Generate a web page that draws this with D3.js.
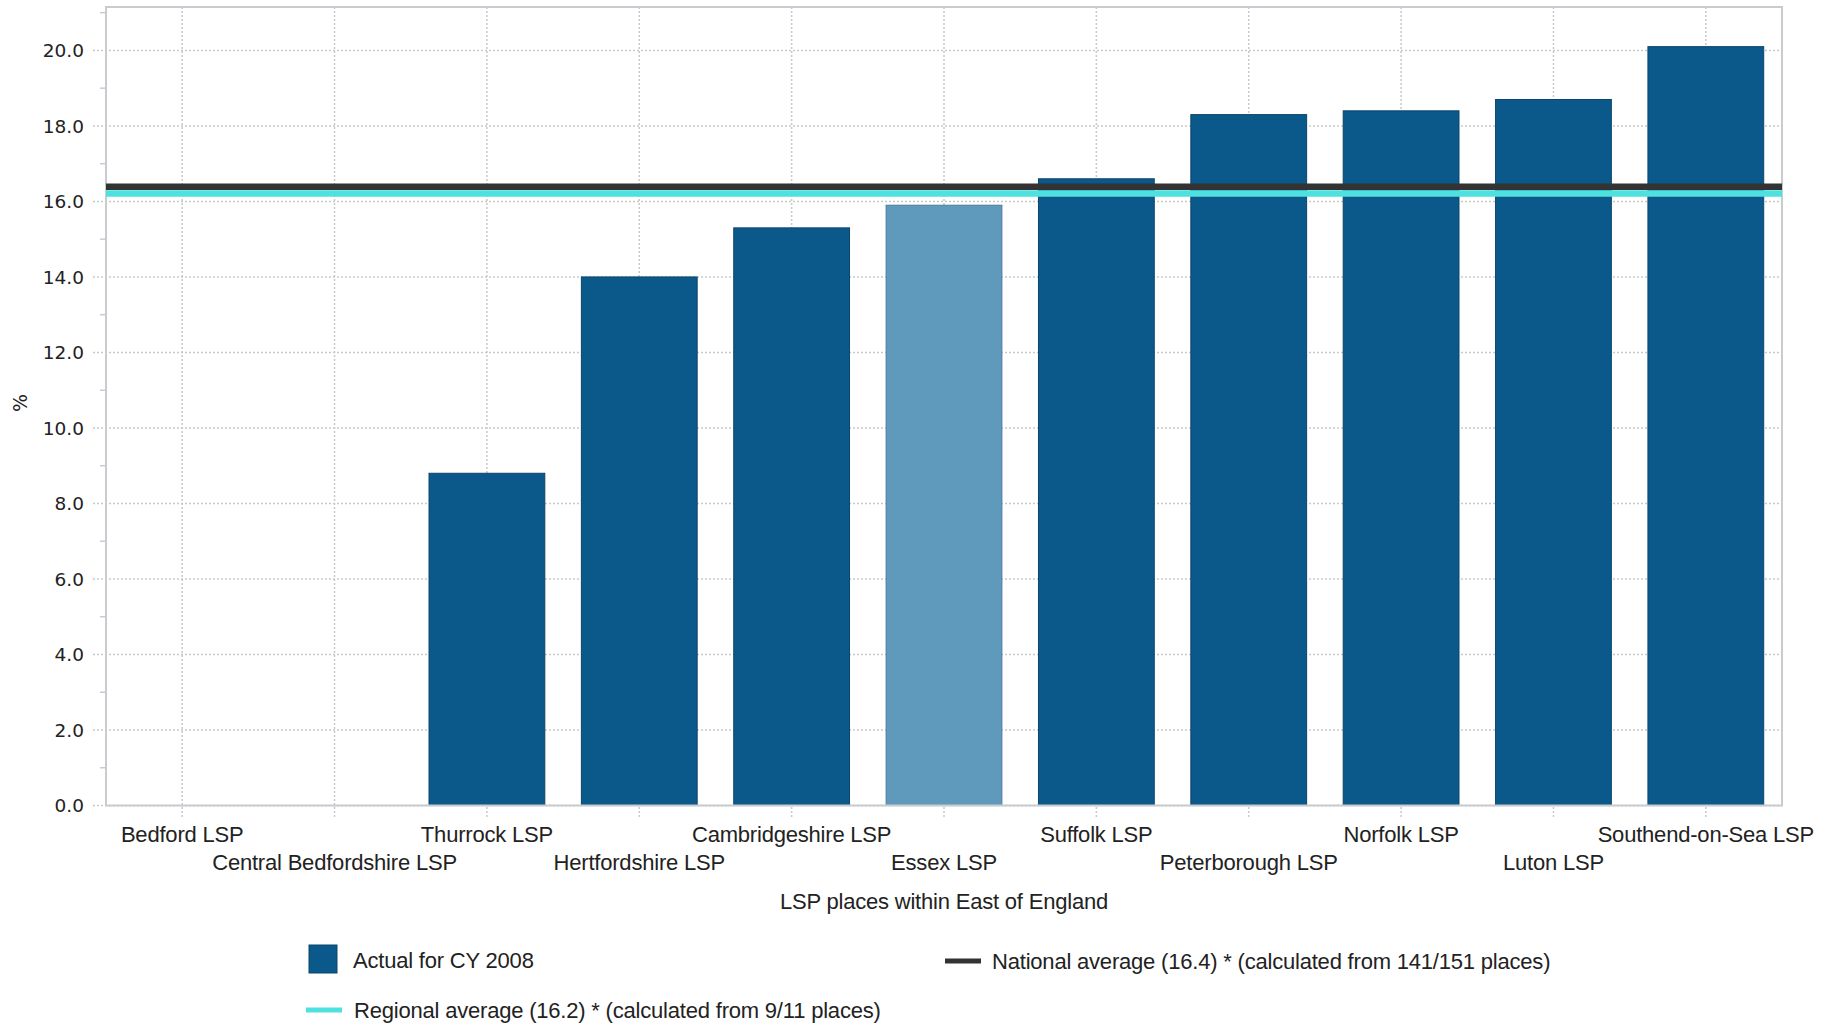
<!DOCTYPE html>
<html>
<head>
<meta charset="utf-8">
<script src="https://cdn.jsdelivr.net/npm/d3@7"></script>
<style>
  html, body { margin: 0; padding: 0; background: #ffffff; }
  svg { display: block; }
</style>
</head>
<body>
<svg id="chart" width="1833" height="1025"></svg>
<script>
// ---- Data ----
const categories = [
  "Bedford LSP", "Central Bedfordshire LSP", "Thurrock LSP", "Hertfordshire LSP",
  "Cambridgeshire LSP", "Essex LSP", "Suffolk LSP", "Peterborough LSP",
  "Norfolk LSP", "Luton LSP", "Southend-on-Sea LSP"
];
const actualValues = [null, null, 8.8, 14.0, 15.3, 15.9, 16.6, 18.3, 18.4, 18.7, 20.1];
const highlighted = ["Essex LSP"];
const nationalAverage = 16.4;
const regionalAverage = 16.2;
const yTicks = [0, 2, 4, 6, 8, 10, 12, 14, 16, 18, 20];
const yMinorTicks = [1, 3, 5, 7, 9, 11, 13, 15, 17, 19, 21];
const yMax = 21.15;
const xAxisTitle = "LSP places within East of England";
const yAxisTitle = "%";
const legendActual = "Actual for CY 2008";
const legendNational = "National average (16.4) * (calculated from 141/151 places)";
const legendRegional = "Regional average (16.2) * (calculated from 9/11 places)";

// ---- Layout ----
const svg = d3.select("#chart");
const plot = { left: 106, right: 1782, top: 7, bottom: 805.5 };

const x = d3.scaleBand().domain(categories)
  .range([plot.left, plot.right]).paddingInner(0.24).paddingOuter(0.12);
const y = d3.scaleLinear().domain([0, yMax]).range([plot.bottom, plot.top]);

const gridColor = "#c6c9cc";
const borderColor = "#c8ccd0";
const barColor = "#0a598a";
const barStroke = "#0a456c";
const hiColor = "#5f99bb";
const hiStroke = "#4b7f9e";
const textColor = "#222222";

// horizontal gridlines (dotted), extend left past axis
svg.append("g").selectAll("line").data(yTicks).join("line")
  .attr("x1", plot.left - 13).attr("x2", plot.right)
  .attr("y1", d => y(d)).attr("y2", d => y(d))
  .attr("stroke", gridColor).attr("stroke-width", 1.5)
  .attr("stroke-dasharray", "2,2");

// vertical gridlines at category centres, extending below axis
svg.append("g").selectAll("line").data(categories).join("line")
  .attr("x1", d => x(d) + x.bandwidth() / 2).attr("x2", d => x(d) + x.bandwidth() / 2)
  .attr("y1", plot.top).attr("y2", plot.bottom + 13)
  .attr("stroke", gridColor).attr("stroke-width", 1.5)
  .attr("stroke-dasharray", "2,2");

// minor ticks
svg.append("g").selectAll("line").data(yMinorTicks).join("line")
  .attr("x1", plot.left - 6).attr("x2", plot.left)
  .attr("y1", d => y(d)).attr("y2", d => y(d))
  .attr("stroke", borderColor).attr("stroke-width", 1.5);

// bars
const barData = categories.map((c, i) => ({ cat: c, v: actualValues[i] })).filter(d => d.v != null);
svg.append("g").selectAll("rect").data(barData).join("rect")
  .attr("x", d => x(d.cat)).attr("width", x.bandwidth())
  .attr("y", d => y(d.v)).attr("height", d => y(0) - y(d.v))
  .attr("fill", d => highlighted.includes(d.cat) ? hiColor : barColor)
  .attr("stroke", d => highlighted.includes(d.cat) ? hiStroke : barStroke)
  .attr("stroke-width", 1);

// plot border
svg.append("rect")
  .attr("x", plot.left).attr("y", plot.top)
  .attr("width", plot.right - plot.left).attr("height", plot.bottom - plot.top)
  .attr("fill", "none").attr("stroke", borderColor).attr("stroke-width", 2);

// average lines
svg.append("line")
  .attr("x1", plot.left).attr("x2", plot.right)
  .attr("y1", y(regionalAverage) - 0.5).attr("y2", y(regionalAverage) - 0.5)
  .attr("stroke", "#4fe0e0").attr("stroke-width", 6.5);
svg.append("line")
  .attr("x1", plot.left).attr("x2", plot.right)
  .attr("y1", y(nationalAverage) + 0.5).attr("y2", y(nationalAverage) + 0.5)
  .attr("stroke", "#333333").attr("stroke-width", 6.5);

// y tick labels
svg.append("g").selectAll("text").data(yTicks).join("text")
  .attr("x", 84).attr("y", d => y(d))
  .attr("dy", "0.36em")
  .attr("text-anchor", "end")
  .attr("font-family", "'DejaVu Sans', Verdana, sans-serif")
  .attr("font-size", 18.5)
  .attr("fill", textColor)
  .text(d => d3.format(".1f")(d));

// y axis title
svg.append("text")
  .attr("transform", "translate(27,403) rotate(-90)")
  .attr("text-anchor", "middle")
  .attr("font-family", "'DejaVu Sans', Verdana, sans-serif")
  .attr("font-size", 19)
  .attr("fill", textColor)
  .text(yAxisTitle);

// x tick labels (staggered)
svg.append("g").selectAll("text").data(categories).join("text")
  .attr("x", d => x(d) + x.bandwidth() / 2)
  .attr("y", (d, i) => i % 2 === 0 ? 842 : 870)
  .attr("text-anchor", "middle")
  .attr("font-family", "'Liberation Sans', Arial, sans-serif")
  .attr("font-size", 22)
  .attr("letter-spacing", "-0.2px")
  .attr("fill", textColor)
  .text(d => d);

// x axis title
svg.append("text")
  .attr("x", (plot.left + plot.right) / 2).attr("y", 909)
  .attr("text-anchor", "middle")
  .attr("font-family", "'Liberation Sans', Arial, sans-serif")
  .attr("font-size", 22)
  .attr("letter-spacing", "-0.2px")
  .attr("fill", textColor)
  .text(xAxisTitle);

// legend
const lg = svg.append("g")
  .attr("font-family", "'Liberation Sans', Arial, sans-serif")
  .attr("font-size", 22)
  .attr("letter-spacing", "-0.2px")
  .attr("fill", textColor);

lg.append("rect").attr("x", 309).attr("y", 945).attr("width", 28).attr("height", 28)
  .attr("fill", barColor).attr("stroke", barStroke).attr("stroke-width", 1);
lg.append("text").attr("x", 353).attr("y", 968).text(legendActual);

lg.append("line").attr("x1", 945).attr("x2", 981).attr("y1", 961).attr("y2", 961)
  .attr("stroke", "#333333").attr("stroke-width", 5);
lg.append("text").attr("x", 992).attr("y", 969).text(legendNational);

lg.append("line").attr("x1", 306).attr("x2", 342).attr("y1", 1010).attr("y2", 1010)
  .attr("stroke", "#4fe0e0").attr("stroke-width", 5);
lg.append("text").attr("x", 354).attr("y", 1018).text(legendRegional);
</script>
</body>
</html>
